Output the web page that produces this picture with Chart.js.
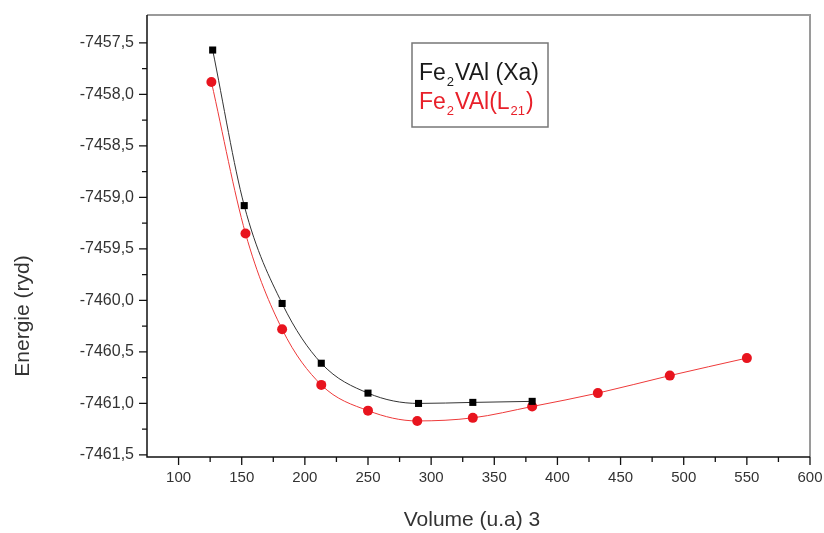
<!DOCTYPE html>
<html>
<head>
<meta charset="utf-8">
<script src="https://cdn.jsdelivr.net/npm/chart.js@4"></script>
<style>
  html, body { margin: 0; padding: 0; background: #fff; }
  #wrap { width: 824px; height: 533px; }
</style>
</head>
<body>
<div id="wrap"><canvas id="chart"></canvas></div>
<script>
// Fe2VAl (Xa) - black squares
const volXa = [127, 152, 182, 213, 250, 290, 333, 380];
const energyXa = [-7457.57, -7459.08, -7460.03, -7460.61, -7460.90, -7461.00, -7460.99, -7460.98];

// Fe2VAl (L21) - red circles
const volL21 = [126, 153, 182, 213, 250, 289, 333, 380, 432, 489, 550];
const energyL21 = [-7457.88, -7459.35, -7460.28, -7460.82, -7461.07, -7461.17, -7461.14, -7461.03, -7460.90, -7460.73, -7460.56];

const xTicks = [100, 150, 200, 250, 300, 350, 400, 450, 500, 550, 600];
const xMinor = [125, 175, 225, 275, 325, 375, 425, 475, 525, 575];
const yTicks = [-7461.5, -7461.0, -7460.5, -7460.0, -7459.5, -7459.0, -7458.5, -7458.0, -7457.5];
const yMinor = [-7461.25, -7460.75, -7460.25, -7459.75, -7459.25, -7458.75, -7458.25, -7457.75];

const xTitle = 'Volume (u.a) 3';
const yTitle = 'Energie (ryd)';

const FONT = '"Liberation Sans", Arial, sans-serif';

function pts(xs, ys) {
  return xs.map((x, i) => ({ x: x, y: ys[i] }));
}

// frame, ticks, titles and legend
const decorations = {
  id: 'decorations',
  afterDraw(chart) {
    const ctx = chart.ctx;
    const a = chart.chartArea;
    const xs = chart.scales.x;
    const ys = chart.scales.y;
    ctx.save();

    // top / right frame in gray
    ctx.strokeStyle = '#9a9a9a';
    ctx.lineWidth = 2;
    ctx.beginPath();
    ctx.moveTo(a.left, a.top);
    ctx.lineTo(a.right, a.top);
    ctx.lineTo(a.right, a.bottom);
    ctx.stroke();

    // left / bottom axes
    ctx.strokeStyle = '#111';
    ctx.lineWidth = 1.5;
    ctx.beginPath();
    ctx.moveTo(a.left, a.top);
    ctx.lineTo(a.left, a.bottom);
    ctx.lineTo(a.right, a.bottom);
    ctx.stroke();

    // ticks
    ctx.lineWidth = 1.3;
    ctx.beginPath();
    xTicks.forEach(v => { const p = xs.getPixelForValue(v); ctx.moveTo(p, a.bottom); ctx.lineTo(p, a.bottom + 8); });
    xMinor.forEach(v => { const p = xs.getPixelForValue(v); ctx.moveTo(p, a.bottom); ctx.lineTo(p, a.bottom + 5); });
    yTicks.forEach(v => { const p = ys.getPixelForValue(v); ctx.moveTo(a.left, p); ctx.lineTo(a.left - 8, p); });
    yMinor.forEach(v => { const p = ys.getPixelForValue(v); ctx.moveTo(a.left, p); ctx.lineTo(a.left - 5, p); });
    ctx.stroke();

    // axis titles
    ctx.fillStyle = '#333';
    ctx.font = '21px ' + FONT;
    ctx.textAlign = 'center';
    ctx.textBaseline = 'middle';
    ctx.fillText(xTitle, 472, 520);
    ctx.save();
    ctx.translate(23, 316);
    ctx.rotate(-Math.PI / 2);
    ctx.fillText(yTitle, 0, 0);
    ctx.restore();

    // legend box
    ctx.strokeStyle = '#777';
    ctx.lineWidth = 1.5;
    ctx.strokeRect(412, 43, 136, 84);

    function subText(parts, x, y, color) {
      ctx.fillStyle = color;
      ctx.textAlign = 'left';
      ctx.textBaseline = 'alphabetic';
      parts.forEach(p => {
        if (p.sub) {
          ctx.font = '13px ' + FONT;
          ctx.fillText(p.t, x + 1, y + 6);
          x += ctx.measureText(p.t).width + 2;
        } else {
          ctx.font = '23px ' + FONT;
          ctx.fillText(p.t, x, y);
          x += ctx.measureText(p.t).width;
        }
      });
    }
    subText([{ t: 'Fe' }, { t: '2', sub: true }, { t: 'VAl (Xa)' }], 419, 80, '#1a1a1a');
    subText([{ t: 'Fe' }, { t: '2', sub: true }, { t: 'VAl(L' }, { t: '21', sub: true }, { t: ')' }], 419, 109, '#e8202a');

    ctx.restore();
  }
};

new Chart(document.getElementById('chart'), {
  type: 'line',
  data: {
    datasets: [
      {
        label: 'Fe2VAl (Xa)',
        data: pts(volXa, energyXa),
        borderColor: '#333',
        borderWidth: 1,
        backgroundColor: '#000',
        pointStyle: 'rect',
        pointRadius: 5,
        pointBorderWidth: 0,
        cubicInterpolationMode: 'monotone'
      },
      {
        label: 'Fe2VAl(L21)',
        data: pts(volL21, energyL21),
        borderColor: '#ee3a3a',
        borderWidth: 1,
        backgroundColor: '#e8141e',
        pointStyle: 'circle',
        pointRadius: 5,
        pointBorderWidth: 0,
        cubicInterpolationMode: 'monotone'
      }
    ]
  },
  options: {
    responsive: true,
    maintainAspectRatio: false,
    animation: false,
    layout: { padding: { left: 0, top: 15, right: 14, bottom: 0 } },
    plugins: {
      legend: { display: false },
      tooltip: { enabled: false }
    },
    scales: {
      x: {
        type: 'linear',
        min: 75,
        max: 600,
        afterBuildTicks: s => { s.ticks = xTicks.map(v => ({ value: v })); },
        afterFit: s => { s.height = 76; s.paddingLeft = 0; s.paddingRight = 0; },
        grid: { display: false, drawTicks: false },
        border: { display: false },
        ticks: {
          padding: 12,
          color: '#333',
          font: { family: FONT, size: 15 },
          maxRotation: 0,
          callback: v => String(v)
        }
      },
      y: {
        type: 'linear',
        min: -7461.52,
        max: -7457.23,
        afterBuildTicks: s => { s.ticks = yTicks.map(v => ({ value: v })); },
        afterFit: s => { s.width = 147; s.paddingTop = 0; s.paddingBottom = 0; },
        grid: { display: false, drawTicks: false },
        border: { display: false },
        ticks: {
          padding: 13,
          color: '#333',
          font: { family: FONT, size: 16 },
          callback: v => v.toFixed(1).replace('.', ',')
        }
      }
    }
  },
  plugins: [decorations]
});
</script>
</body>
</html>
